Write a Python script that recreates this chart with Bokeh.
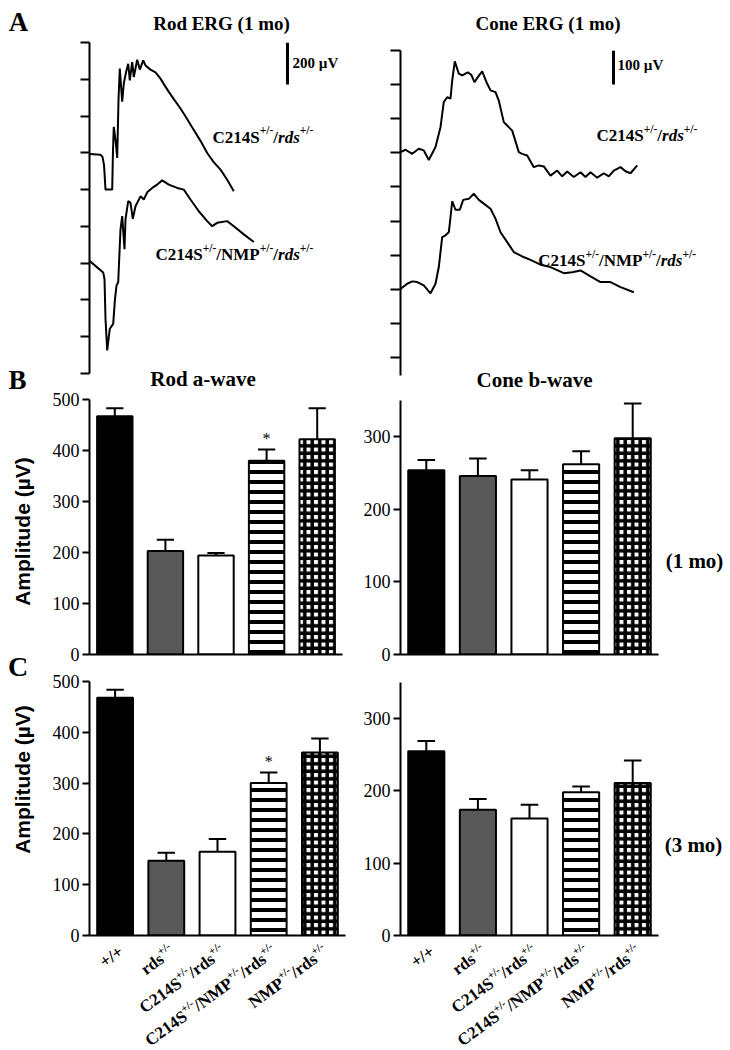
import math
import re
from bokeh.plotting import figure
from bokeh.models import Range1d, FixedTicker, Label, ColumnDataSource
from bokeh.layouts import row, column
from bokeh.embed import file_html
from bokeh.resources import INLINE

# ---------------- data ----------------
groups = ["+/+", "rds+/-", "C214S+/-/rds+/-", "C214S+/-/NMP+/-/rds+/-", "NMP+/-/rds+/-"]

rod_a_1mo = [467, 203, 194, 380, 422]
rod_a_1mo_sem = [16, 22, 5, 22, 61]
cone_b_1mo = [254, 246, 241, 262, 298]
cone_b_1mo_sem = [14, 24, 13, 18, 48]
rod_a_3mo = [468, 147, 165, 300, 360]
rod_a_3mo_sem = [16, 16, 25, 21, 28]
cone_b_3mo = [255, 174, 162, 198, 211]
cone_b_3mo_sem = [14, 15, 19, 8, 31]
rod_sig_1mo = [False, False, False, True, False]
rod_sig_3mo = [False, False, False, True, False]

trace_names = ["C214S+/-/rds+/-", "C214S+/-/NMP+/-/rds+/-"]

# rod ERG traces (time ms, amplitude uV)
rod_top_t = [0, 11, 13, 14.5, 16, 22.7, 23.5, 24.3, 26, 27.7, 29, 30.3, 32.7, 34.3, 36.5,
             38.7, 40.3, 42.7, 44.3, 47.7, 50.3, 53.7, 56, 61, 66, 71, 75, 79.3, 85, 91,
             97, 104.3, 111, 117.7, 124, 131, 137.7, 144.3]
rod_top_uv = [-6, -9, -19, -57, -175, -175, 14, 124, 61, -24, 251, 401, 243, 330, 383,
              424, 345, 432, 361, 443, 396, 440, 416, 396, 383, 353, 322, 290, 251, 211,
              166, 109, 57, -1, -43, -80, -128, -183]
rod_bot_t = [0, 7.7, 13.7, 15, 16, 17.7, 20.3, 23.7, 25.5, 27, 28.7, 31, 32.7, 35, 36,
             38.7, 41, 43.3, 46, 51, 54.3, 57.7, 62.7, 67.7, 72.7, 79.3, 87.7, 94.3, 101,
             109.3, 117.7, 122.7, 127.7, 137.7, 144.3, 154.3, 164.3]
rod_bot_uv = [11, -20, -44, -76, -265, -415, -312, -289, -170, -107, -91, 161, 224, 66, 208,
              295, 287, 211, 271, 318, 303, 337, 358, 374, 394, 374, 358, 350, 303,
              247, 200, 176, 192, 200, 176, 137, 101]

# cone ERG traces (time ms, amplitude uV)
cone_top_t = [0, 5, 11.7, 18.3, 23.3, 28.3, 35, 40, 43.3, 46.7, 50, 51.7, 54.3, 58.3, 61.7,
              67.3, 70.7, 74, 77.3, 81.7, 86, 90, 95, 98.3, 103.3, 106.7, 111.7, 118.3,
              121.7, 126.7, 133.3, 138.3, 143.3, 150, 156.7, 161.7, 166.7, 173.3, 180,
              185, 190, 196.7, 203.3, 208.3, 213.3, 220, 225, 230, 236.7]
cone_top_uv = [2, 9, -3, 12, 7, -21, 17, 75, 149, 163, 159, 212, 268, 232, 227,
               236, 229, 207, 222, 239, 207, 183, 178, 153, 90, 80, 65, 2,
               -3, -8, -42, -37, -40, -67, -52, -69, -55, -71, -57,
               -71, -57, -73, -60, -69, -52, -42, -54, -60, -37]
cone_bot_t = [0, 6.7, 11.7, 16.7, 23.3, 30, 35, 38.3, 41.7, 45, 48.3, 50, 51.7, 55, 59.3,
              62.7, 68.3, 73.3, 78.3, 83.3, 90, 95, 100, 106.7, 113.3, 121.7, 130, 140,
              150, 163.3, 171.7, 180, 190, 200, 210, 220, 233.3]
cone_bot_uv = [1, 16, 23, 21, 11, -12, 16, 65, 153, 158, 167, 211, 258, 233, 233,
               262, 265, 280, 262, 251, 236, 207, 167, 138, 109, 96, 86, 72,
               65, 47, 50, 55, 38, 21, 21, 6, -9]

rod_scale_uv = 200
cone_scale_uv = 100

# ---------------- styles / geometry ----------------
SERIF = "Liberation Serif"
SANS = "Liberation Sans"
ROD_OFFSETS = [0, -525]
CONE_OFFSETS = [0, -400]
BAR_FILL = ["black", "#595959", "white", "white", "white"]
BAR_HATCH = [" ", " ", " ", "horizontal_line", "cross"]
BAR_HW = [1, 1, 1, 4, 3.5]
BAR_HS = [10, 10, 10, 10, 7.5]
BAR_W = 0.7
CAP_W = 0.34

WB = {'C': .722, '2': .5, '1': .5, '4': .5, 'S': .556, '/': .278, 'N': .722, 'M': .944,
      'P': .611, 'r': .444, 'd': .556, 's': .389, '+': .570, '-': .333, ' ': .25}
WBI = {'r': .389, 'd': .5, 's': .389}


def text_w(s, size, italic=False):
    tbl = WBI if italic else WB
    return sum(tbl.get(ch, WB.get(ch, 0.5)) for ch in s) * size


def parse(name, italic_rds):
    parts = []
    for tok in re.split(r"(\+/-)", name):
        if not tok:
            continue
        if tok == "+/-":
            parts.append((tok, "s"))
        elif italic_rds and "rds" in tok:
            pre = tok.split("rds")[0]
            if pre:
                parts.append((pre, "m"))
            parts.append(("rds", "i"))
        else:
            parts.append((tok, "m"))
    return parts


def new_fig(W, H, fx, fy, fl, fr, ft, fb, xr, yr):
    p = figure(width=W, height=H, x_range=Range1d(*xr), y_range=Range1d(*yr),
               min_border_left=fl - fx, min_border_right=fx + W - fr,
               min_border_top=ft - fy, min_border_bottom=fy + H - fb,
               output_backend="svg", toolbar_location=None, title=None,
               background_fill_color=None, border_fill_color=None,
               outline_line_color=None, frame_align=False)
    p.xgrid.visible = False
    p.ygrid.visible = False
    g = dict(fl=fl, fr=fr, ft=ft, fb=fb, x0=xr[0], x1=xr[1], y0=yr[0], y1=yr[1])
    return p, g


def d(g, rx, ry):
    x = g['x0'] + (rx - g['fl']) * (g['x1'] - g['x0']) / (g['fr'] - g['fl'])
    y = g['y0'] + (g['fb'] - ry) * (g['y1'] - g['y0']) / (g['fb'] - g['ft'])
    return x, y


def px_x(g, x):
    return g['fl'] + (x - g['x0']) * (g['fr'] - g['fl']) / (g['x1'] - g['x0'])


def style_y(p, ticks, out, labels=True):
    ax = p.yaxis[0]
    ax.ticker = FixedTicker(ticks=ticks)
    ax.axis_line_width = 2
    ax.axis_line_color = "black"
    ax.major_tick_line_width = 2
    ax.major_tick_line_color = "black"
    ax.major_tick_in = 0
    ax.major_tick_out = out
    ax.minor_tick_line_color = None
    if labels:
        ax.major_label_text_font = SERIF
        ax.major_label_text_font_size = "18px"
        ax.major_label_text_color = "black"
        ax.major_label_standoff = 3
    else:
        ax.major_label_overrides = {t: "" for t in ticks}
        ax.major_label_text_color = None
        ax.major_label_standoff = 0


def style_x_bar(p):
    ax = p.xaxis[0]
    ax.ticker = FixedTicker(ticks=[])
    ax.axis_line_width = 2
    ax.axis_line_color = "black"
    ax.major_tick_in = 0
    ax.major_tick_out = 0
    ax.minor_tick_line_color = None
    ax.major_label_text_color = None
    ax.major_label_standoff = 0


def lab(p, x, y, text, size, font=SERIF, style="bold", align="center",
        baseline="middle", angle=0.0):
    p.add_layout(Label(x=x, y=y, text=text, text_font=font, text_font_size=f"{size}px",
                       text_font_style=style, text_align=align, text_baseline=baseline,
                       angle=angle, text_color="black"))


def rich(p, x, y, parts, size, sup_size, rise):
    off = 0.0
    for txt, kind in parts:
        sz = sup_size if kind == "s" else size
        style = "bold italic" if kind == "i" else "bold"
        p.add_layout(Label(x=x, y=y, x_offset=off, y_offset=rise if kind == "s" else 0,
                           text=txt, text_font=SERIF, text_font_size=f"{sz}px",
                           text_font_style=style, text_align="left",
                           text_baseline="alphabetic", text_color="black"))
        off += text_w(txt, sz, kind == "i")


def rot_rich(p, x, y, parts, size, sup_size, rise, angle):
    ca, sa = math.cos(angle), math.sin(angle)
    cum = 0.0
    for txt, kind in reversed(parts):
        sz = sup_size if kind == "s" else size
        r = rise if kind == "s" else 0
        ox = -cum * ca - r * sa
        oy = -cum * sa + r * ca
        p.add_layout(Label(x=x, y=y, x_offset=ox, y_offset=oy, angle=angle, text=txt,
                           text_font=SERIF, text_font_size=f"{sz}px", text_font_style="bold",
                           text_align="right", text_baseline="alphabetic", text_color="black"))
        cum += text_w(txt, sz)


def bar_panel(p, vals, sems, sig):
    xs = list(range(len(vals)))
    hi = [v + s for v, s in zip(vals, sems)]
    p.segment(x0=xs, y0=vals, x1=xs, y1=hi, line_color="black", line_width=2)
    p.segment(x0=[x - CAP_W / 2 for x in xs], y0=hi, x1=[x + CAP_W / 2 for x in xs], y1=hi,
              line_color="black", line_width=2)
    src = ColumnDataSource(dict(x=xs, top=vals, fill=BAR_FILL, hatch=BAR_HATCH,
                                hw=BAR_HW, hs=BAR_HS))
    p.vbar(x="x", top="top", bottom=0, width=BAR_W, source=src, fill_color="fill",
           line_color="black", line_width=2, hatch_pattern="hatch", hatch_color="black",
           hatch_weight="hw", hatch_scale="hs")
    for x, h, s in zip(xs, hi, sig):
        if s:
            p.add_layout(Label(x=x, y=h, text="*", text_font=SERIF, text_font_size="16px",
                               text_align="center", text_baseline="middle", y_offset=11,
                               text_color="black"))


# ---------------- Panel A: rod ERG ----------------
AL, gAL = new_fig(358, 378, 0, 0, 89, 345, 42, 373, (0, 256), (-1050, 525))
style_y(AL, [525 - 175 * k for k in range(10)], 9, labels=False)
AL.xaxis.visible = False
for (t, v), off in zip([(rod_top_t, rod_top_uv), (rod_bot_t, rod_bot_uv)], ROD_OFFSETS):
    AL.line(t, [u + off for u in v], line_color="black", line_width=2)
AL.segment(x0=[198], x1=[198], y0=[525 - rod_scale_uv], y1=[525], line_color="black", line_width=3)
lab(AL, *d(gAL, 292, 62), f"{rod_scale_uv} µV", 15, align="left")
rich(AL, *d(gAL, 212, 136.7), parse(trace_names[0], True), 17, 11.5, 7)
rich(AL, *d(gAL, 155, 254), parse(trace_names[1], True), 17, 11.5, 7)

# ---------------- Panel A: cone ERG ----------------
AR, gAR = new_fig(372, 378, 358, 0, 400, 710, 50, 375, (0, 310), (-653, 300))
style_y(AR, [300 - 100 * k for k in range(10)], 10, labels=False)
AR.xaxis.visible = False
for (t, v), off in zip([(cone_top_t, cone_top_uv), (cone_bot_t, cone_bot_uv)], CONE_OFFSETS):
    AR.line(t, [u + off for u in v], line_color="black", line_width=2)
AR.segment(x0=[213], x1=[213], y0=[300 - cone_scale_uv], y1=[300], line_color="black", line_width=3)
lab(AR, *d(gAR, 617, 64), f"{cone_scale_uv} µV", 15, align="left")
rich(AR, *d(gAR, 596, 135), parse(trace_names[0], True), 17, 11.5, 7)
rich(AR, *d(gAR, 537.7, 260), parse(trace_names[1], True), 17, 11.5, 7)

# ---------------- Panel B ----------------
BL, gBL = new_fig(358, 298, 0, 366, 89, 342, 399, 654, (-0.5, 4.5), (0, 500))
style_y(BL, [0, 100, 200, 300, 400, 500], 7)
style_x_bar(BL)
bar_panel(BL, rod_a_1mo, rod_a_1mo_sem, rod_sig_1mo)

BR, gBR = new_fig(372, 298, 358, 366, 400, 658, 400, 654, (-0.5, 4.5), (0, 350))
style_y(BR, [0, 100, 200, 300], 7)
style_x_bar(BR)
bar_panel(BR, cone_b_1mo, cone_b_1mo_sem, [False] * 5)

# ---------------- Panel C ----------------
CL, gCL = new_fig(358, 396, 0, 654, 89, 345, 681, 935, (-0.5, 4.5), (0, 500))
style_y(CL, [0, 100, 200, 300, 400, 500], 7)
style_x_bar(CL)
bar_panel(CL, rod_a_3mo, rod_a_3mo_sem, rod_sig_3mo)

CR, gCR = new_fig(372, 396, 358, 654, 400, 658, 682, 935, (-0.5, 4.5), (0, 350))
style_y(CR, [0, 100, 200, 300], 7)
style_x_bar(CR)
bar_panel(CR, cone_b_3mo, cone_b_3mo_sem, [False] * 5)

# ---------------- overlay for free texts (page pixel coordinates) ----------------
OV = figure(width=730, height=1050, x_range=Range1d(0, 730), y_range=Range1d(1050, 0),
            x_axis_type=None, y_axis_type=None, min_border=0, min_border_left=0,
            min_border_right=0, min_border_top=0, min_border_bottom=0, title=None,
            toolbar_location=None, output_backend="svg", background_fill_color=None,
            border_fill_color=None, outline_line_color=None, margin=(-1050, 0, 0, 0),
            frame_align=False)
lab(OV, 18, 21, "A", 27)
lab(OV, 221, 23, "Rod ERG (1 mo)", 19)
lab(OV, 547.5, 23, "Cone ERG (1 mo)", 19)
lab(OV, 17, 379, "B", 27)
lab(OV, 202.5, 378, "Rod a-wave", 21)
lab(OV, 534, 379, "Cone b-wave", 21)
lab(OV, 22, 531, "Amplitude (µV)", 21, font=SANS, angle=math.pi / 2)
lab(OV, 694, 560, "(1 mo)", 21)
lab(OV, 17.5, 666, "C", 28)
lab(OV, 22, 779, "Amplitude (µV)", 21, font=SANS, angle=math.pi / 2)
lab(OV, 693, 844, "(3 mo)", 21)

ANG = math.radians(36)
for g in (gCL, gCR):
    for i, name in enumerate(groups):
        rot_rich(OV, px_x(g, i) + 6, g['fb'] + 14, parse(name, False), 17, 11, 6, ANG)

layout = column(row(AL, AR),
                row(BL, BR, margin=(-12, 0, 0, 0)),
                row(CL, CR, margin=(-10, 0, 0, 0)),
                OV)

open("out.html", "w").write(file_html(layout, INLINE))
